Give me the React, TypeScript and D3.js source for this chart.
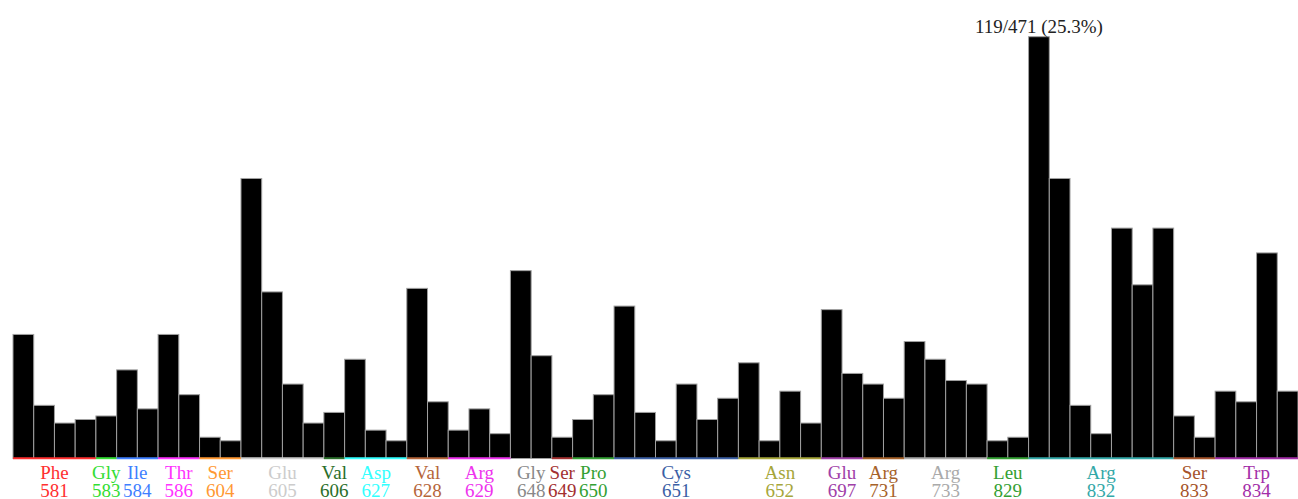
import React from "react";
import * as d3 from "d3";

// Read counts per bar, left to right
const counts: number[] = [
  35, 15, 10, 11, 12, 25, 14, 35, 18, 6, 5,
  79, 47, 21, 10, 13, 28, 8, 5, 48, 16,
  8, 14, 7, 53, 29, 6, 11, 18, 43, 13,
  5, 21, 11, 17, 27, 5, 19, 10, 42, 24,
  21, 17, 33, 28, 22, 21, 5, 6, 119, 79,
  15, 7, 65, 49, 65, 12, 6, 19, 16, 58, 19,
];

const totalReads = 471;

// Residue groups along the x axis
const residues: string[] = [
  "Phe", "Gly", "Ile", "Thr", "Ser", "Glu", "Val", "Asp", "Val", "Arg", "Gly",
  "Ser", "Pro", "Cys", "Asn", "Glu", "Arg", "Arg", "Leu", "Arg", "Ser", "Trp",
];
const positions: number[] = [
  581, 583, 584, 586, 604, 605, 606, 627, 628, 629, 648,
  649, 650, 651, 652, 697, 731, 733, 829, 832, 833, 834,
];
const groupSizes: number[] = [4, 1, 2, 2, 2, 4, 1, 3, 2, 3, 2, 1, 2, 6, 4, 2, 2, 4, 2, 7, 2, 4];
const groupColors: string[] = [
  "#ff3030", "#33dd33", "#3f7fff", "#ff33ff", "#ff9933", "#cccccc", "#2a6e2a",
  "#33ffff", "#b5653a", "#ee33ee", "#888888", "#a33030", "#33a033", "#3b5fa5",
  "#a6a63a", "#a040a8", "#a6622a", "#aaaaaa", "#33a033", "#33a8a8", "#a5532a", "#a32ea8",
];
// Gly 648 has no underline drawn
const underlineShown: boolean[] = groupSizes.map((_, i) => i !== 10);

const W = 1298;
const H = 499;
const FONT = "'Liberation Serif', 'Times New Roman', serif";

export default function App() {
  const x = d3
    .scaleBand<number>()
    .domain(d3.range(counts.length))
    .range([13, W])
    .padding(0);
  const maxVal = d3.max(counts) as number;
  const y = d3.scaleLinear().domain([0, maxVal]).range([458.5, 36.7]);

  const maxIdx = counts.indexOf(maxVal);
  const pct = ((maxVal / totalReads) * 100).toFixed(1);

  const starts = groupSizes.map((_, i) => d3.sum(groupSizes.slice(0, i)));

  return (
    <div style={{ position: "fixed", left: 0, top: 0 }}>
      <svg width={W} height={H} style={{ display: "block", background: "#fff" }}>
        <g>
          {counts.map((v, i) => (
            <rect
              key={i}
              x={x(i)!}
              y={y(v)}
              width={x.bandwidth()}
              height={y(0) - y(v)}
              fill="#000"
              stroke="#a0a0a0"
              strokeWidth={1}
            />
          ))}
        </g>
        <text
          x={x(maxIdx)! + x.bandwidth() / 2}
          y={33.3}
          textAnchor="middle"
          fontFamily={FONT}
          fontSize={19}
          fill="#222"
        >
          {`${maxVal}/${totalReads} (${pct}%)`}
        </text>
        <g>
          {residues.map((r, gi) => {
            const x0 = x(starts[gi])!;
            const x1 = x0 + groupSizes[gi] * x.bandwidth();
            const cx = (x0 + x1) / 2;
            return (
              <g key={gi}>
                {underlineShown[gi] && (
                  <line x1={x0} x2={x1} y1={458.2} y2={458.2} stroke={groupColors[gi]} strokeWidth={2} />
                )}
                <text x={cx} y={478.5} textAnchor="middle" fontFamily={FONT} fontSize={19} fill={groupColors[gi]}>
                  {r}
                </text>
                <text x={cx} y={496.8} textAnchor="middle" fontFamily={FONT} fontSize={19} fill={groupColors[gi]}>
                  {positions[gi]}
                </text>
              </g>
            );
          })}
        </g>
      </svg>
    </div>
  );
}
